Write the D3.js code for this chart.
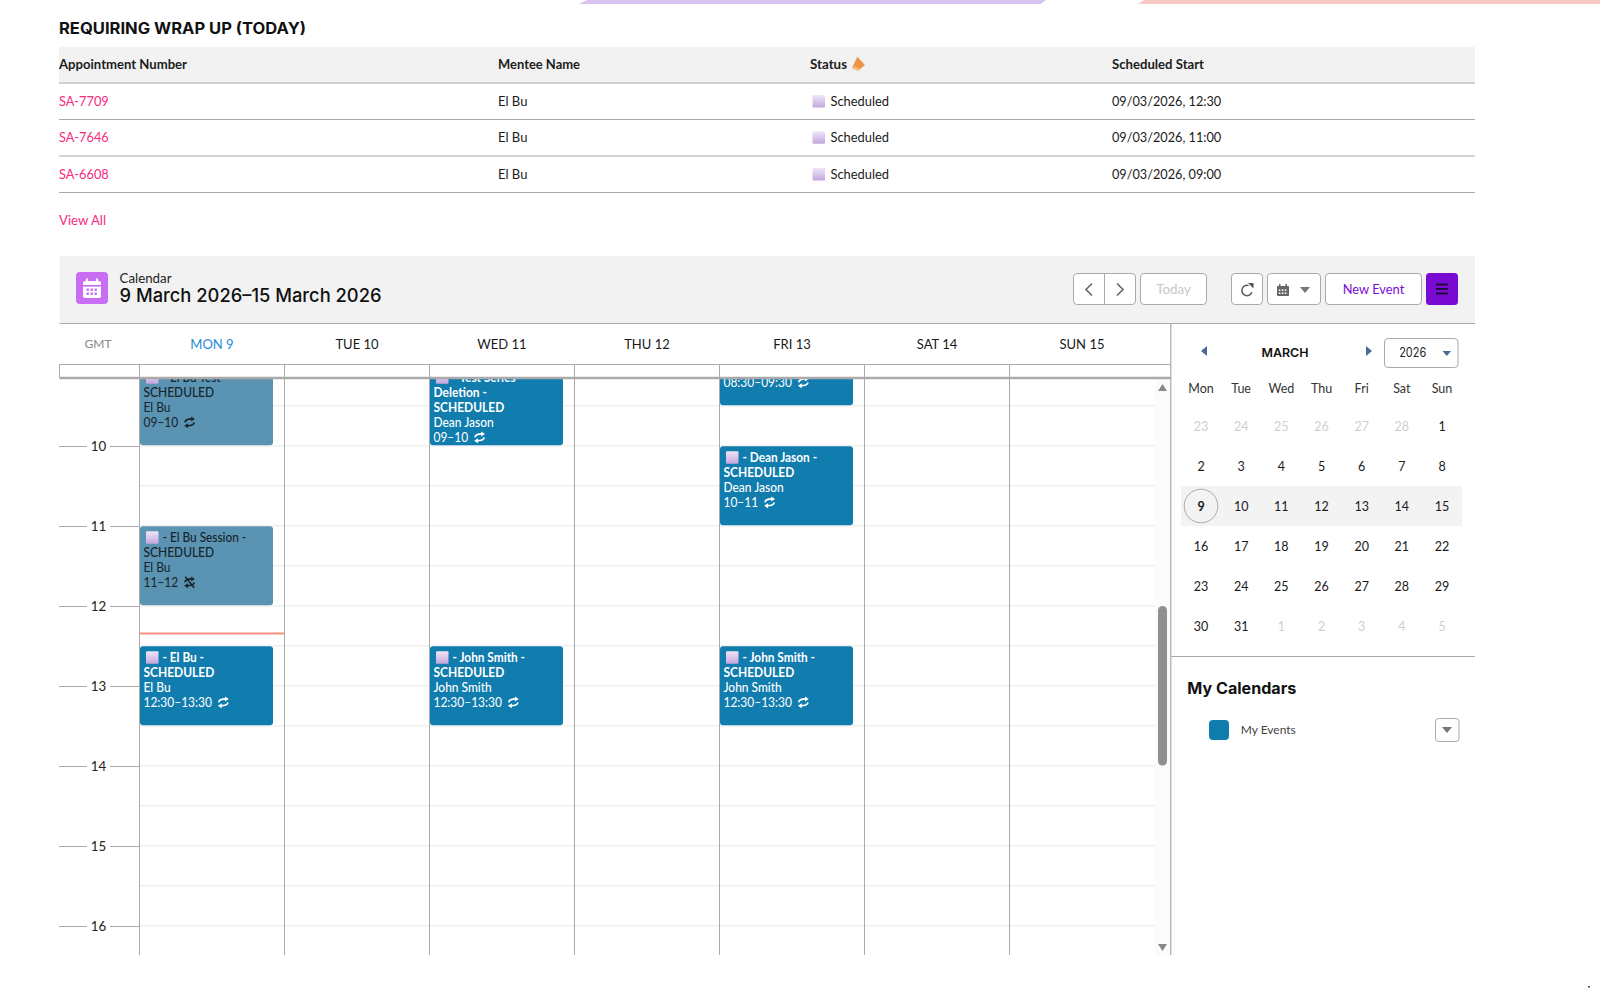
<!DOCTYPE html>
<html><head><meta charset="utf-8">
<script src="https://d3js.org/d3.v7.min.js"></script>
<style>html,body{margin:0;padding:0;background:#fff;overflow:hidden}svg{display:block}text{font-family:Lato,sans-serif;dominant-baseline:central}</style>
</head><body><svg id="c" width="1600" height="988" viewBox="0 0 1600 988"></svg>
<script>
// ---- data ----
const tableTitle = "REQUIRING WRAP UP (TODAY)";
const tableHeaders = ["Appointment Number","Mentee Name","Status","Scheduled Start"];
const apptNumbers = ["SA-7709","SA-7646","SA-6608"];
const menteeNames = ["El Bu","El Bu","El Bu"];
const apptStatus = ["Scheduled","Scheduled","Scheduled"];
const apptStarts = ["09/03/2026, 12:30","09/03/2026, 11:00","09/03/2026, 09:00"];
const dayLabels = ["MON 9","TUE 10","WED 11","THU 12","FRI 13","SAT 14","SUN 15"];
const hourTicks = [10,11,12,13,14,15,16];
const gridHours = [9.5,10,10.5,11,11.5,12,12.5,13,13.5,14,14.5,15,15.5,16];
const eventDay = [0,0,0,2,2,4,4,4];
const eventStart = [9,11,12.5,9,12.5,8.5,10,12.5];
const eventEnd = [10,12,13.5,10,13.5,9.5,11,13.5];
const eventMuted = [true,true,false,false,false,false,false,false];
const eventNoRepeat = [false,true,false,false,false,false,false,false];
const eventTitles = [["- El Bu Test -","SCHEDULED"],["- El Bu Session -","SCHEDULED"],["- El Bu -","SCHEDULED"],["- Test Series","Deletion -","SCHEDULED"],["- John Smith -","SCHEDULED"],["",""],["- Dean Jason -","SCHEDULED"],["- John Smith -","SCHEDULED"]];
const eventPeople = ["El Bu","El Bu","El Bu","Dean Jason","John Smith","","Dean Jason","John Smith"];
const eventTimes = ["09–10","11–12","12:30–13:30","09–10","12:30–13:30","08:30–09:30","10–11","12:30–13:30"];
const nowHour = 12.34;
const miniWeekdays = ["Mon","Tue","Wed","Thu","Fri","Sat","Sun"];
const miniDays = [23,24,25,26,27,28,1,2,3,4,5,6,7,8,9,10,11,12,13,14,15,16,17,18,19,20,21,22,23,24,25,26,27,28,29,30,31,1,2,3,4,5];
const miniOther = [1,1,1,1,1,1,0,0,0,0,0,0,0,0,0,0,0,0,0,0,0,0,0,0,0,0,0,0,0,0,0,0,0,0,0,0,0,1,1,1,1,1];

// ---- helpers ----
const svg = d3.select("#c");
const GREY="#aaaaaa", BLUE="#117cae", MUTED="#5b93b2", PINK="#f92a80";
const defs = svg.append("defs");
const grad = defs.append("linearGradient").attr("id","st").attr("x1",0).attr("x2",0).attr("y1",0).attr("y2",1);
grad.append("stop").attr("offset","0").attr("stop-color","#efe6f8");
grad.append("stop").attr("offset","1").attr("stop-color","#c4a6de");
defs.append("clipPath").attr("id","body").append("rect").attr("x",139).attr("y",378.5).attr("width",1032).attr("height",576.5);
function rect(p,x,y,w,h,fill,o={}){return p.append("rect").attr("x",x).attr("y",y).attr("width",w).attr("height",h).attr("fill",fill).attr("rx",o.r||0).attr("stroke",o.s||"none").attr("stroke-width",o.sw||1);}
function line(p,x1,y1,x2,y2,c,w=1){return p.append("line").attr("x1",x1).attr("y1",y1).attr("x2",x2).attr("y2",y2).attr("stroke",c).attr("stroke-width",w);}
function text(p,s,x,y,o={}){const t=p.append("text").attr("x",x).attr("y",y).text(s).attr("fill",o.c||"#1a1a1a").attr("font-size",o.fs||14).attr("font-weight",o.w||400).attr("text-anchor",o.a||"start");
 if(o.f)t.style("font-family",o.f);
 let len=o.len; if(!len&&o.sx&&s){len=t.node().getComputedTextLength()*o.sx;}
 if(len){t.attr("textLength",len).attr("lengthAdjust","spacingAndGlyphs");} t.datum(len||0); return t;}
function path(p,d,fill,stroke,sw){return p.append("path").attr("d",d).attr("fill",fill||"none").attr("stroke",stroke||"none").attr("stroke-width",sw||1);}
function tri(p,pts,c){return path(p,"M"+pts.map(q=>q.join(",")).join("L")+"Z",c);}
function statusIcon(p,x,y,s=12.5){return rect(p,x,y,s,s,"url(#st)",{r:1});}
function repeatIcon(p,x,y,c,strike){const g=p.append("g").attr("transform",`translate(${x},${y})`);
 path(g,"M0.8 5C1.2 2.4 3.4 1.6 7.6 1.6",null,c,1.7);tri(g,[[7,-0.9],[10.8,1.6],[7,4.1]],c);
 path(g,"M10 5C9.6 7.6 7.4 8.4 3.2 8.4",null,c,1.7);tri(g,[[3.8,5.9],[0,8.4],[3.8,10.9]],c);
 if(strike){line(g,1,-0.5,10,10.5,c,1.5);}}

// ---- top decoration ----
tri(svg,[[587,0],[1046,0],[1040.5,4],[579,4]],"#d8c3ee");
tri(svg,[[1144,0],[1600,0],[1600,4],[1138,4]],"#f8c7c3");

// ---- table ----
const colX=[59,498,810,1112], rowY=[100.2,136.4,173.2], ruleY=[83,119.5,156,192.5];
text(svg,tableTitle,59,28,{f:"Inter",fs:15.5,w:700,c:"#111",len:247});
rect(svg,59,47,1416,36,"#f2f2f2");
ruleY.forEach(y=>line(svg,59,y,1475,y,GREY,1.2));
tableHeaders.forEach((h,i)=>text(svg,h,colX[i],64,{fs:13.5,w:700,c:"#1c1c1c",len:[128,82,37,92][i]}));
tri(svg,[[857.3,56.7],[865,65],[858,70.7],[852,68]],"#ee9444");
tri(svg,[[852,68],[858,70.7],[860,69],[854,66]],"#f6b98c");
rowY.forEach((y,i)=>{
 text(svg,apptNumbers[i],59,y,{c:PINK,fs:14,sx:.91});
 text(svg,menteeNames[i],498,y,{fs:14,sx:.93});
 statusIcon(svg,812.5,y-5.2,12.5);
 text(svg,apptStatus[i],830.5,y,{fs:14,sx:.92});
 text(svg,apptStarts[i],1112,y,{fs:14,sx:.907});
});
text(svg,"View All",59,219.2,{c:PINK,fs:14,sx:.94});

// ---- calendar header ----
rect(svg,59.5,256,1415.5,67,"#f2f2f2");
line(svg,59.5,323.5,1475,323.5,GREY,1.2);
rect(svg,76,272,32,32,"#c96df5",{r:4});
const ic=svg.append("g");
rect(ic,83,281,18,17,"#fff",{r:2});
rect(ic,83,285,18,1.6,"#c96df5");
rect(ic,86,278.5,2,3,"#fff");rect(ic,96,278.5,2,3,"#fff");
d3.range(3).forEach(i=>d3.range(2).forEach(j=>rect(ic,86.5+i*4,288.5+j*4,2.4,2.4,"#c96df5")));
text(svg,"Calendar",119.5,277.2,{fs:14,c:"#222",sx:.95});
text(svg,"9 March 2026–15 March 2026",119.5,295,{f:"Inter",fs:18.5,w:500,c:"#111",len:262});

const btn=(x,w)=>rect(svg,x,273.5,w,31,"#fff",{r:3.5,s:GREY,sw:1});
btn(1073.5,62); line(svg,1104.5,273.5,1104.5,304.5,GREY);
path(svg,"M1092 283.5L1086 289.5L1092 295.5",null,"#666",1.6);
path(svg,"M1117 283.5L1123 289.5L1117 295.5",null,"#666",1.6);
btn(1140.5,66); text(svg,"Today",1173.5,288.7,{a:"middle",c:"#c8c8c8",fs:14,sx:.95});
btn(1231.5,31);
path(svg,d3.arc()({innerRadius:4.4,outerRadius:5.9,startAngle:1.9,endAngle:6.6}),"#555").attr("transform","translate(1247,290.5)");
tri(svg,[[1248,283],[1253.5,283],[1253.5,288.5]],"#555");
btn(1267.5,53);
const ci=svg.append("g");
rect(ci,1277,286,12,10,"#666",{r:1});rect(ci,1279,284,1.5,3,"#666");rect(ci,1285.5,284,1.5,3,"#666");
d3.range(3).forEach(i=>d3.range(2).forEach(j=>rect(ci,1278.8+i*3,289.4+j*3,1.6,1.6,"#fff")));
tri(svg,[[1300,287],[1310,287],[1305,293]],"#777");
btn(1325.5,96); text(svg,"New Event",1373.5,288.7,{a:"middle",c:"#7a0bd3",fs:14,sx:.92});
rect(svg,1426,273,32,32,"#7a0bd3",{r:3.5});
[284.5,289,293.5].forEach(y=>line(svg,1436,y,1448,y,"#1a0a2a",1.8));

// ---- week grid ----
const yH=d3.scaleLinear().domain([10,16]).range([446.3,926.3]);
const xD=d3.scaleLinear().domain([0,7]).range([139.5,1154.5]);
const bodyG=svg.append("g");
rect(bodyG,1155,378,15.5,577,"#fbfbfb");
gridHours.forEach(h=>line(bodyG,140,yH(h)-0.5,1155,yH(h)-0.5,"#f2f2f2",2));
text(svg,"GMT",98,343.2,{a:"middle",c:"#8a8a8a",fs:12});
dayLabels.forEach((d,i)=>text(svg,d,xD(i+0.5),343.2,{a:"middle",fs:14,c:i===0?"#2a8ad8":"#1a1a1a",sx:.93}));
// clipped events
const evG=svg.append("g").attr("clip-path","url(#body)");
eventDay.forEach((d,i)=>{
 const x=xD(d), top=yH(eventStart[i]), h=yH(eventEnd[i])-top-1, m=eventMuted[i];
 const fg=m?"#17242c":"#fff", w=m?500:700;
 rect(evG,x+0.5,top,133,h,m?MUTED:BLUE,{r:3});
 let ly=top+11; const tx=x+4;
 eventTitles[i].forEach((t,k)=>{
  if(k===0){ if(t){statusIcon(evG,x+6.5,ly-6,12.5);} text(evG,t,x+23,ly,{fs:13,c:fg,w:w,sx:.91}); }
  else text(evG,t,tx,ly,{fs:13,c:fg,w:w,sx:.92});
  ly+=15;
 });
 if(eventTitles[i][0]==="") ly=top+41;
 text(evG,eventPeople[i],tx,ly,{fs:13,c:fg,w:m?400:500,sx:.92}); ly+=15;
 const tt=text(evG,eventTimes[i],tx,ly,{fs:13,c:fg,sx:.92});
 repeatIcon(evG,tx+tt.datum()+6,ly-5,fg,eventNoRepeat[i]);
});
// all-day band + column rules
line(svg,59.5,364.5,1170.5,364.5,GREY,1);
line(svg,59.5,364.5,59.5,378,GREY,1);
d3.range(0,7).forEach(i=>line(svg,xD(i),364.5,xD(i),955,GREY,1));
line(svg,59.5,378,1170.5,378,GREY,2.4);
line(svg,xD(0)+0.5,yH(nowHour),xD(1),yH(nowHour),"#fa8f80",2);
// hours
hourTicks.forEach(h=>{const y=yH(h)+0.2;
 line(svg,59,y,87,y,GREY,1);line(svg,110,y,139,y,GREY,1);
 text(svg,String(h),98.5,y-0.8,{a:"middle",fs:14,c:"#222",sx:.95});
});
// scrollbar
tri(svg,[[1162.5,384],[1167,391],[1158,391]],"#888");
tri(svg,[[1158,944],[1167,944],[1162.5,951]],"#888");
rect(svg,1158,606,9,159.5,"#8f8f8f",{r:4.5});
line(svg,1170.8,323.5,1170.8,955,GREY,1.2);

// ---- mini calendar ----
tri(svg,[[1207,346],[1207,356],[1201,351]],"#4a6a95");
tri(svg,[[1366,346],[1366,356],[1372,351]],"#4a6a95");
text(svg,"MARCH",1285,352.2,{a:"middle",f:"Inter",fs:12,w:600,c:"#111",len:47});
rect(svg,1384.5,338.5,73.5,29,"#fff",{r:3.5,s:GREY});
text(svg,"2026",1412.7,352.5,{a:"middle",fs:12.5,f:"Inter",c:"#222",len:27});
tri(svg,[[1442.5,351],[1451,351],[1446.8,356]],"#4a6a95");
const xM=d3.scalePoint().domain(d3.range(7)).range([1201,1442]);
const yM=d3.scalePoint().domain(d3.range(6)).range([426,626]);
rect(svg,1181,486,281,40,"#f3f3f3");
svg.append("circle").attr("cx",xM(0)).attr("cy",yM(2)).attr("r",16.8).attr("fill","none").attr("stroke",GREY).attr("stroke-width",1);
miniWeekdays.forEach((d,i)=>text(svg,d,xM(i),388.7,{a:"middle",fs:12.5,c:"#333"}));
miniDays.forEach((d,i)=>{const col=i%7,row=Math.floor(i/7);
 text(svg,String(d),xM(col),yM(row),{a:"middle",fs:12.5,c:miniOther[i]?"#cfcfcf":"#1a1a1a",w:d===9&&!miniOther[i]?700:400});
});
line(svg,1171,656.5,1475,656.5,GREY,1.2);
text(svg,"My Calendars",1187.3,688.7,{f:"Inter",fs:15.5,w:700,c:"#111",len:109});
rect(svg,1209,720,20,20,BLUE,{r:4});
text(svg,"My Events",1240.7,729.3,{fs:12,c:"#444"});
rect(svg,1435.5,718.5,23.5,23,"#fff",{r:3,s:GREY});
tri(svg,[[1442,727],[1452,727],[1447,733]],"#777");
rect(svg,1588,986,2,1.5,"#555");
</script></body></html>
